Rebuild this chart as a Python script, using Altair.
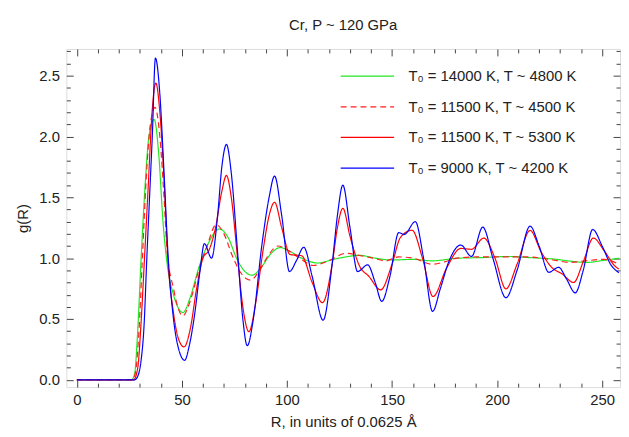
import altair as alt
import pandas as pd

# ---- data ----
labels = ["T₀ = 14000 K, T ~ 4800 K", "T₀ = 11500 K, T ~ 4500 K",
          "T₀ = 11500 K, T ~ 5300 K", "T₀ = 9000 K, T ~ 4200 K"]
colors = ["#22e622", "#ff2020", "#ff0000", "#0000ff"]
dashes = [[1, 0], [6, 4], [1, 0], [1, 0]]

gx = [0, 26, 27.5, 28.8, 30.6, 32.5, 34.3, 36.8, 39, 41, 43, 46, 50.5, 54, 58, 62, 67.8, 72, 76, 80, 83.4,
      88, 92, 96.8, 101, 107, 114.8, 122, 128, 134.4, 142, 150, 160, 169, 181.5, 193, 205, 215, 228.5,
      235, 242.6, 250, 258]
gy = [0, 0, 0.05, 0.35, 1.0, 1.6, 2.0, 2.14, 1.85, 1.3, 0.95, 0.7, 0.553, 0.68, 0.92, 1.1, 1.24, 1.17, 1.0,
      0.89, 0.86, 0.93, 1.03, 1.087, 1.06, 1.0, 0.96, 0.99, 1.01, 1.024, 1.0, 0.985, 0.99, 0.978, 1.0,
      1.005, 1.014, 1.005, 0.99, 0.975, 0.965, 0.98, 1.0]

dx = [0, 26.5, 28, 29.5, 31.2, 33, 35, 37.2, 39.5, 41.5, 43, 46, 48, 50.4, 54, 58, 62, 66.2, 70, 74, 78,
      82.6, 87, 91, 95.8, 100, 106, 112.5, 120, 128.1, 135, 141, 147, 153, 160, 169, 175, 181, 190, 200,
      215, 225, 235, 243, 251, 258]
dy = [0, 0, 0.07, 0.38, 1.0, 1.65, 2.1, 2.24, 2.0, 1.5, 1.05, 0.75, 0.6, 0.526, 0.65, 0.9, 1.1, 1.276, 1.2,
      1.02, 0.88, 0.82, 0.9, 1.02, 1.10, 1.07, 1.0, 0.94, 0.98, 1.04, 1.02, 1.0, 0.978, 1.01, 1.0, 0.95,
      0.97, 1.0, 1.01, 1.01, 1.01, 0.99, 0.965, 0.98, 0.99, 0.95]

rx = [0, 27, 29, 30.5, 32.2, 34, 35.8, 37.6, 39.5, 41.5, 43.3, 46, 48.5, 51, 54, 57, 60, 63, 66, 69, 71.2,
      73.5, 76.5, 79, 81.9, 85, 88.5, 91.5, 94.1, 97.5, 101.5, 107, 112, 116.9, 121.5, 124, 126.6, 130,
      134.4, 139, 144.6, 150, 154, 159.5, 164.5, 169.5, 176, 182.7, 187.8, 193.7, 199, 204.2, 209.5,
      215.7, 221, 226, 231, 236.4, 241, 245.8, 251, 256, 258]
ry = [0, 0, 0.1, 0.45, 1.0, 1.6, 2.2, 2.44, 2.2, 1.65, 1.0, 0.55, 0.33, 0.27, 0.42, 0.75, 1.0, 1.07, 1.25,
      1.55, 1.68, 1.5, 1.0, 0.6, 0.395, 0.62, 1.05, 1.35, 1.46, 1.25, 1.03, 1.02, 0.8, 0.634, 0.95, 1.25,
      1.41, 1.18, 0.94, 0.85, 0.74, 0.95, 1.17, 1.23, 1.0, 0.685, 0.92, 1.08, 1.073, 1.165, 1.0, 0.748,
      0.95, 1.228, 1.05, 0.924, 0.87, 0.80, 0.97, 1.165, 1.06, 0.937, 0.91]

bx = [0, 27.5, 29, 30.5, 32, 33.3, 34.6, 35.9, 37.4, 39.5, 41.5, 43.5, 46, 48.5, 51.3, 53.5, 56, 58.5,
      60.7, 64.1, 67, 69, 71.2, 73.5, 76.5, 79, 81.1, 84, 88, 91.5, 94.1, 97.5, 101.2, 104.5, 108, 112,
      117.2, 121.5, 124, 126.6, 130, 133.6, 138.4, 142, 145.1, 149, 153.2, 155.8, 161.1, 165, 169.3, 173,
      177, 182.7, 187.8, 193.2, 198, 204.2, 209.5, 215.7, 220, 224.6, 229.3, 233, 237.2, 241, 245.5, 250,
      254, 258]
by = [0, 0, 0.03, 0.15, 0.45, 1.0, 1.5, 2.0, 2.645, 2.35, 1.7, 1.0, 0.5, 0.25, 0.16, 0.28, 0.53, 0.88,
      1.12, 1.0, 1.35, 1.75, 1.935, 1.7, 1.05, 0.5, 0.28, 0.5, 1.1, 1.5, 1.675, 1.35, 0.89, 0.98, 1.09,
      0.85, 0.49, 0.95, 1.35, 1.6, 1.25, 0.89, 0.945, 0.8, 0.645, 0.85, 1.21, 1.195, 1.30, 1.0, 0.563,
      0.75, 0.97, 1.108, 1.014, 1.255, 1.0, 0.675, 0.9, 1.263, 1.1, 0.884, 0.925, 0.83, 0.715, 0.9,
      1.236, 1.1, 0.95, 0.88]

x_major = [0, 50, 100, 150, 200, 250]
x_minor = [v for v in range(10, 251, 10) if v % 50 != 0]
y_major = [0.0, 0.5, 1.0, 1.5, 2.0, 2.5]
y_minor = [round(v * 0.1, 1) for v in range(1, 28) if v % 5 != 0]

x_domain = [-5, 258.5]
y_domain = [-0.06, 2.72]

title_text = "Cr, P ~ 120 GPa"
x_title = "R, in units of 0.0625 Å"
y_title = "g(R)"

# ---- build table ----
rows = []
for lab, xs, ys in zip(labels, [gx, dx, rx, bx], [gy, dy, ry, by]):
    assert len(xs) == len(ys)
    for a, b in zip(xs, ys):
        rows.append({"x": a, "y": b, "series": lab})
df = pd.DataFrame(rows)

FONT = "Liberation Sans"
TXT = "#222222"
AX = "#444444"

xs = alt.Scale(domain=x_domain, nice=False, zero=False)
ys = alt.Scale(domain=y_domain, nice=False, zero=False)

leg = alt.Legend(
    title=None, orient="none", legendX=297, legendY=20,
    symbolType="M-5,0H5", symbolSize=116.6, symbolStrokeWidth=1.3,
    labelFont=FONT, labelFontSize=15, labelColor=TXT, labelOffset=34, labelLimit=400,
    rowPadding=15, padding=0,
)

lines = alt.Chart(df).mark_line(clip=True, strokeWidth=1.2, interpolate="monotone").encode(
    x=alt.X("x:Q", scale=xs, axis=alt.Axis(
        orient="bottom", values=x_major, format="d", labelFont=FONT, labelFontSize=15,
        labelColor=TXT, labelPadding=6, ticks=False, tickSize=0, domain=False, grid=False,
        title=x_title, titleFont=FONT, titleFontSize=15, titleFontWeight="normal",
        titleColor=TXT, titlePadding=7)),
    y=alt.Y("y:Q", scale=ys, axis=alt.Axis(
        orient="left", values=y_major, format=".1f", labelFont=FONT, labelFontSize=15,
        labelColor=TXT, labelPadding=7, ticks=False, tickSize=0, domain=False, grid=False,
        title=y_title, titleFont=FONT, titleFontSize=15, titleFontWeight="normal",
        titleColor=TXT, titlePadding=8)),
    color=alt.Color("series:N", scale=alt.Scale(domain=labels, range=colors), legend=leg,
                    sort=labels),
    strokeDash=alt.StrokeDash("series:N", scale=alt.Scale(domain=labels, range=dashes), legend=leg,
                              sort=labels),
)


def tick_layer(xorient, yorient, xvals, yvals, size):
    common = dict(labels=False, domain=False, grid=False, title=None, ticks=True,
                  tickSize=size, tickColor=AX, tickWidth=1, offset=-size)
    return alt.Chart(df).mark_point(opacity=0).encode(
        x=alt.X("x:Q", scale=xs, axis=alt.Axis(orient=xorient, values=xvals, **common)),
        y=alt.Y("y:Q", scale=ys, axis=alt.Axis(orient=yorient, values=yvals, **common)),
    )


chart = alt.layer(
    lines,
    tick_layer("bottom", "left", x_major, y_major, 7),
    tick_layer("bottom", "left", x_minor, y_minor, 4),
    tick_layer("top", "right", x_major, y_major, 7),
    tick_layer("top", "right", x_minor, y_minor, 4),
).resolve_axis(x="independent", y="independent").properties(
    width=560, height=342,
    title=alt.TitleParams(title_text, font=FONT, fontSize=15, fontWeight="normal", color=TXT,
                          anchor="middle", baseline="bottom", offset=16, dy=15),
    autosize=alt.AutoSizeParams(type="none"),
    padding={"left": 59, "top": 39, "right": 1, "bottom": 45},
).configure_view(stroke=AX, strokeWidth=1).configure(background="white")

chart.save("out.html", embed_options={"renderer": "svg", "actions": False})
